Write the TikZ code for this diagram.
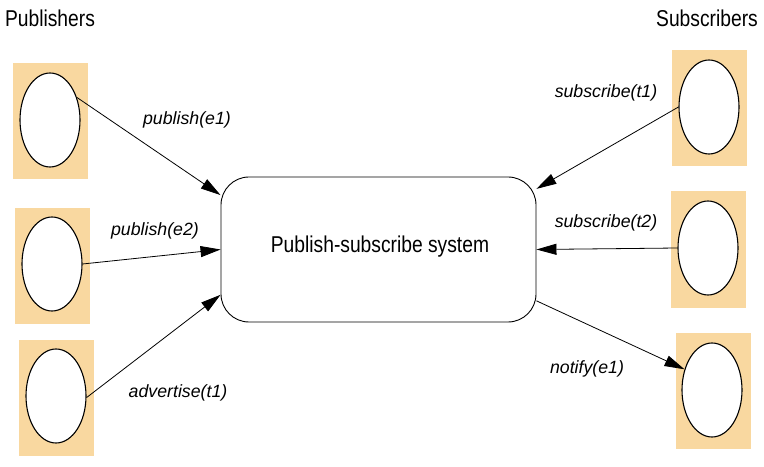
\documentclass[tikz,border=0pt]{standalone}
\usepackage{fontspec}
\setmainfont{Liberation Sans}[FakeStretch=0.84]
\newfontfamily\labfont{Liberation Sans}
\usetikzlibrary{shapes.geometric,arrows.meta}
\definecolor{peach}{HTML}{F9D8A0}
\tikzset{
  holder/.style={rectangle,fill=peach,draw=none,minimum width=75bp,minimum height=116bp,inner sep=0pt},
  actor/.style={ellipse,draw=black,fill=white,line width=1.1bp,minimum width=60bp,minimum height=94bp,inner sep=0pt},
  sysbox/.style={rectangle,rounded corners=28bp,draw=black,line width=0.9bp,minimum width=315bp,minimum height=145bp,inner sep=0pt},
  msg/.style={anchor=base,font=\labfont\fontsize{17.8}{21}\selectfont\itshape,inner sep=0pt},
  head/.style={anchor=base,font=\fontsize{23}{27}\selectfont,inner sep=0pt},
  conn/.style={line width=0.8bp,-{Triangle[length=20bp,width=11bp]}}
}
\begin{document}
\begin{tikzpicture}[x=1bp,y=-1bp]
\useasboundingbox (0,0) rectangle (764,467);
% holders
\node[holder] (hl1) at (50.5,121) {};
\node[holder] (hl2) at (52.5,266) {};
\node[holder] (hl3) at (56.5,398) {};
\node[holder] (hr1) at (709.5,108) {};
\node[holder] (hr2) at (708.5,249.5) {};
\node[holder] (hr3) at (713,391) {};
% actors
\node[actor] (pl1) at (50,120) {};
\node[actor] (pl2) at (52,264) {};
\node[actor] (pl3) at (56,396) {};
\node[actor] (sr1) at (709,107) {};
\node[actor] (sr2) at (708,248) {};
\node[actor] (sr3) at (712,390) {};
% system
\node[sysbox] (sys) at (378.5,249.5) {};
\node[anchor=base,font=\fontsize{23}{27}\selectfont,inner sep=0pt] (systxt) at (380,253) {Publish-subscribe system};
% headers
\node[head] (hpub) at (50,27) {Publishers};
\node[head] (hsub) at (707,27) {Subscribers};
% connectors
\draw[conn] (pl1.40) -- (sys.161);
\draw[conn] (pl2.east) -- (sys.west);
\draw[conn] (pl3.-3) -- (sys.-164.5);
\draw[conn] (sr1.west) -- (sys.21.8);
\draw[conn] (sr2.west) -- (sys.east);
\draw[conn] (sys.-18.8) -- (sr3.143);
% labels
\node[msg] (m1) at (187,125) {publish(e1)};
\node[msg] (m2) at (155,236) {publish(e2)};
\node[msg] (m3) at (178,397) {advertise(t1)};
\node[msg] (m4) at (606,98) {subscribe(t1)};
\node[msg] (m5) at (606,228) {subscribe(t2)};
\node[msg] (m6) at (587,374) {notify(e1)};
\end{tikzpicture}
\end{document}
